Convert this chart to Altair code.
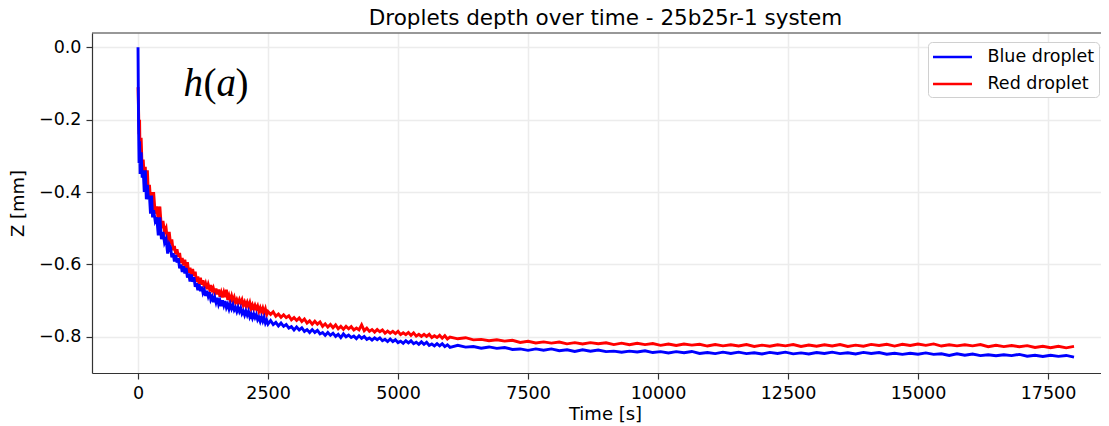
import altair as alt
import pandas as pd

# ---------------- data ----------------
series_names = ["Blue droplet", "Red droplet"]
series_colors = ["#0000ff", "#ff0000"]

time_a = [0, 10, 20, 30, 40, 60, 80, 100, 120, 140, 160, 180, 200, 220, 240, 260,
          280, 300, 330, 360, 390, 420, 450, 480, 510, 540, 570, 600]
time_b = list(range(625, 2501, 25))
time_c = list(range(2550, 6001, 50))
time_d = list(range(6150, 18001, 150))
time_s = time_a + time_b + time_c + time_d

blue_a = [0.0, -0.21, -0.32, -0.26, -0.35, -0.29, -0.36, -0.34, -0.40, -0.34, -0.42, -0.38,
          -0.42, -0.41, -0.46, -0.41, -0.47, -0.45, -0.48, -0.47, -0.52, -0.47, -0.53, -0.51,
          -0.54, -0.53, -0.57, -0.545]
red_a = [-0.11, -0.17, -0.24, -0.20, -0.31, -0.25, -0.34, -0.31, -0.36, -0.33, -0.40, -0.34,
         -0.41, -0.38, -0.42, -0.40, -0.45, -0.40, -0.46, -0.44, -0.48, -0.44, -0.50, -0.48,
         -0.51, -0.50, -0.54, -0.51]

blue_b = [-0.553, -0.580, -0.569, -0.592, -0.574, -0.595, -0.583, -0.611, -0.600, -0.621,
          -0.605, -0.625, -0.610, -0.636, -0.625, -0.647, -0.628, -0.648, -0.635, -0.662,
          -0.651, -0.671, -0.655, -0.674, -0.661, -0.679, -0.671, -0.687, -0.673, -0.688,
          -0.677, -0.697, -0.689, -0.704, -0.691, -0.705, -0.692, -0.710, -0.700, -0.715,
          -0.699, -0.713, -0.701, -0.719, -0.710, -0.723, -0.710, -0.722, -0.712, -0.726,
          -0.719, -0.730, -0.719, -0.730, -0.721, -0.736, -0.729, -0.740, -0.729, -0.740,
          -0.730, -0.745, -0.737, -0.748, -0.737, -0.747, -0.739, -0.753, -0.746, -0.757,
          -0.746, -0.757, -0.747, -0.762, -0.754, -0.765]
red_b = [-0.544, -0.531, -0.561, -0.549, -0.572, -0.558, -0.579, -0.568, -0.596, -0.582,
         -0.603, -0.587, -0.610, -0.594, -0.623, -0.609, -0.630, -0.613, -0.632, -0.620,
         -0.648, -0.633, -0.654, -0.637, -0.656, -0.644, -0.664, -0.653, -0.668, -0.655,
         -0.668, -0.657, -0.677, -0.666, -0.680, -0.667, -0.683, -0.669, -0.689, -0.677,
         -0.691, -0.677, -0.690, -0.670, -0.698, -0.686, -0.700, -0.687, -0.701, -0.691,
         -0.706, -0.697, -0.707, -0.697, -0.707, -0.698, -0.713, -0.704, -0.715, -0.705,
         -0.717, -0.706, -0.722, -0.712, -0.723, -0.713, -0.723, -0.715, -0.730, -0.720,
         -0.732, -0.721, -0.734, -0.723, -0.739, -0.730]

blue_c = [-0.755, -0.766, -0.760, -0.770, -0.762, -0.771, -0.766, -0.776, -0.772, -0.781,
          -0.773, -0.781, -0.775, -0.785, -0.780, -0.788, -0.780, -0.788, -0.782, -0.792,
          -0.788, -0.796, -0.788, -0.796, -0.790, -0.799, -0.793, -0.802, -0.792, -0.800,
          -0.795, -0.802, -0.798, -0.805, -0.797, -0.804, -0.799, -0.807, -0.803, -0.809,
          -0.803, -0.808, -0.803, -0.811, -0.807, -0.813, -0.806, -0.813, -0.808, -0.816,
          -0.812, -0.818, -0.811, -0.817, -0.811, -0.819, -0.815, -0.821, -0.814, -0.821,
          -0.815, -0.824, -0.820, -0.825, -0.819, -0.825, -0.819, -0.827, -0.822, -0.829]
red_c = [-0.738, -0.731, -0.743, -0.737, -0.746, -0.739, -0.747, -0.742, -0.753, -0.747,
         -0.755, -0.748, -0.758, -0.751, -0.762, -0.756, -0.765, -0.757, -0.765, -0.759,
         -0.771, -0.764, -0.773, -0.766, -0.775, -0.767, -0.778, -0.771, -0.779, -0.771,
         -0.778, -0.772, -0.781, -0.776, -0.781, -0.767, -0.783, -0.776, -0.785, -0.780,
         -0.787, -0.780, -0.786, -0.781, -0.790, -0.784, -0.790, -0.785, -0.791, -0.785,
         -0.794, -0.789, -0.794, -0.788, -0.796, -0.789, -0.798, -0.793, -0.799, -0.793,
         -0.799, -0.793, -0.802, -0.797, -0.802, -0.796, -0.804, -0.797, -0.806, -0.801]

blue_d = [-0.8235, -0.8285, -0.827, -0.8315, -0.828, -0.832, -0.8295, -0.835, -0.8335, -0.8375,
          -0.8335, -0.837, -0.8335, -0.8385, -0.836, -0.8405, -0.836, -0.840, -0.8365, -0.841,
          -0.8395, -0.8425, -0.8395, -0.842, -0.8385, -0.8435, -0.841, -0.8445, -0.841, -0.844,
          -0.8405, -0.846, -0.8435, -0.8465, -0.8425, -0.846, -0.8425, -0.8465, -0.844, -0.8475,
          -0.843, -0.846, -0.8425, -0.847, -0.8445, -0.8475, -0.8435, -0.846, -0.8425, -0.8465,
          -0.844, -0.8475, -0.843, -0.846, -0.8435, -0.848, -0.8455, -0.8485, -0.8455, -0.848,
          -0.8445, -0.8485, -0.847, -0.8515, -0.847, -0.851, -0.8475, -0.852, -0.8495, -0.8525,
          -0.8495, -0.852, -0.8485, -0.8535, -0.851, -0.8545, -0.851, -0.854, -0.8515, -0.856]
red_d = [-0.8055, -0.8025, -0.8085, -0.807, -0.811, -0.808, -0.812, -0.8095, -0.8155, -0.8125,
         -0.817, -0.814, -0.8175, -0.8145, -0.8195, -0.816, -0.820, -0.816, -0.819, -0.8165,
         -0.8215, -0.8175, -0.822, -0.818, -0.8215, -0.8185, -0.8235, -0.820, -0.824, -0.820,
         -0.823, -0.8205, -0.8255, -0.8215, -0.825, -0.822, -0.8255, -0.8215, -0.8265, -0.823,
         -0.826, -0.822, -0.825, -0.8215, -0.8265, -0.8225, -0.826, -0.822, -0.8255, -0.8215,
         -0.8265, -0.823, -0.826, -0.821, -0.824, -0.8205, -0.8255, -0.8205, -0.824, -0.820,
         -0.8235, -0.8195, -0.8255, -0.822, -0.825, -0.822, -0.825, -0.8215, -0.8275, -0.8235,
         -0.827, -0.824, -0.8275, -0.8245, -0.8295, -0.826, -0.830, -0.826, -0.8305, -0.8265]

blue_z = blue_a + blue_b + blue_c + blue_d
red_z = red_a + red_b + red_c + red_d

x_ticks = [0, 2500, 5000, 7500, 10000, 12500, 15000, 17500]
y_ticks = [0.0, -0.2, -0.4, -0.6, -0.8]

annot_parts = ["h", "(", "a", ")"]
annot_t = [875]
annot_z = [-0.134]

# ---------------- chart ----------------
W, H = 1009, 340
n = len(time_s)
df = pd.DataFrame({
    "t": time_s + time_s,
    "z": blue_z + red_z,
    "series": [series_names[0]] * n + [series_names[1]] * n,
})

xscale = alt.Scale(domain=[-885, 18519], nice=False, zero=False)
yscale = alt.Scale(domain=[-0.9, 0.0395], nice=False, zero=False)

x_enc = alt.X("t:Q", scale=xscale,
              axis=alt.Axis(values=x_ticks, format="d", title="Time [s]",
                            titleX=513, titleY=46, titleBaseline="alphabetic"))
y_enc = alt.Y("z:Q", scale=yscale,
              axis=alt.Axis(values=y_ticks, title="Z [mm]",
                            labelExpr="replace(format(datum.value, '.1f'), '-', '\u2212')",
                            titleX=-74, titleY=170, titleAlign="center",
                            titleBaseline="middle"))
color_enc = alt.Color("series:N",
                      scale=alt.Scale(domain=series_names, range=series_colors),
                      legend=alt.Legend(title=None, orient="none", legendX=836, legendY=9,
                                        symbolType="M-2,0L2,0", symbolSize=380,
                                        symbolStrokeWidth=2.4, labelFontSize=17.5,
                                        labelFont="DejaVu Sans", labelColor="#000000",
                                        symbolOffset=9.5, labelOffset=24, rowPadding=7,
                                        padding=4, cornerRadius=4, strokeColor="#d0d0d0",
                                        fillColor="#ffffff"))

base = alt.Chart(df).mark_line(strokeWidth=2.9, clip=True).encode(
    x=x_enc, y=y_enc, color=color_enc)
red_line = base.transform_filter(alt.datum.series == series_names[1])
blue_line = base.transform_filter(alt.datum.series == series_names[0])

frame_top = alt.Chart(pd.DataFrame({"a": [0]})).mark_rule(color="#333333", strokeWidth=1.2).encode(
    x=alt.value(0), x2=alt.value(W), y=alt.value(0))

annot_df = pd.DataFrame({"t": annot_t * 4, "z": annot_z * 4, "label": annot_parts})
annot_layers = []
for i, (style, dx) in enumerate([("italic", 0), ("normal", 20), ("italic", 33), ("normal", 52)]):
    annot_layers.append(
        alt.Chart(annot_df[annot_df["label"] == annot_parts[i]]).mark_text(
            font="Liberation Serif", fontStyle=style, fontSize=39, align="left",
            baseline="alphabetic", color="#000000", dx=dx).encode(
            x=alt.X("t:Q", scale=xscale), y=alt.Y("z:Q", scale=yscale), text="label:N"))

chart = alt.layer(red_line, blue_line, frame_top, *annot_layers).properties(
    width=W, height=H,
    autosize=alt.AutoSizeParams(type="none"),
    padding={"left": 84, "top": 25, "right": 0, "bottom": 52},
    title=alt.TitleParams("Droplets depth over time - 25b25r-1 system", font="DejaVu Sans",
                          fontSize=21.5, fontWeight="normal", color="#000000",
                          anchor="middle", dx=9, offset=3),
).configure_view(stroke=None).configure_axis(
    domainColor="#333333", domainWidth=1.2,
    gridColor="#ececec", gridWidth=1.5,
    tickColor="#333333", tickSize=6, tickWidth=1.2,
    labelFont="DejaVu Sans", labelFontSize=17.5, labelColor="#000000", labelPadding=5,
    titleFont="DejaVu Sans", titleFontSize=18, titleFontWeight="normal", titleColor="#000000",
)

chart.save("out.html", embed_options={"renderer": "svg", "actions": False})
